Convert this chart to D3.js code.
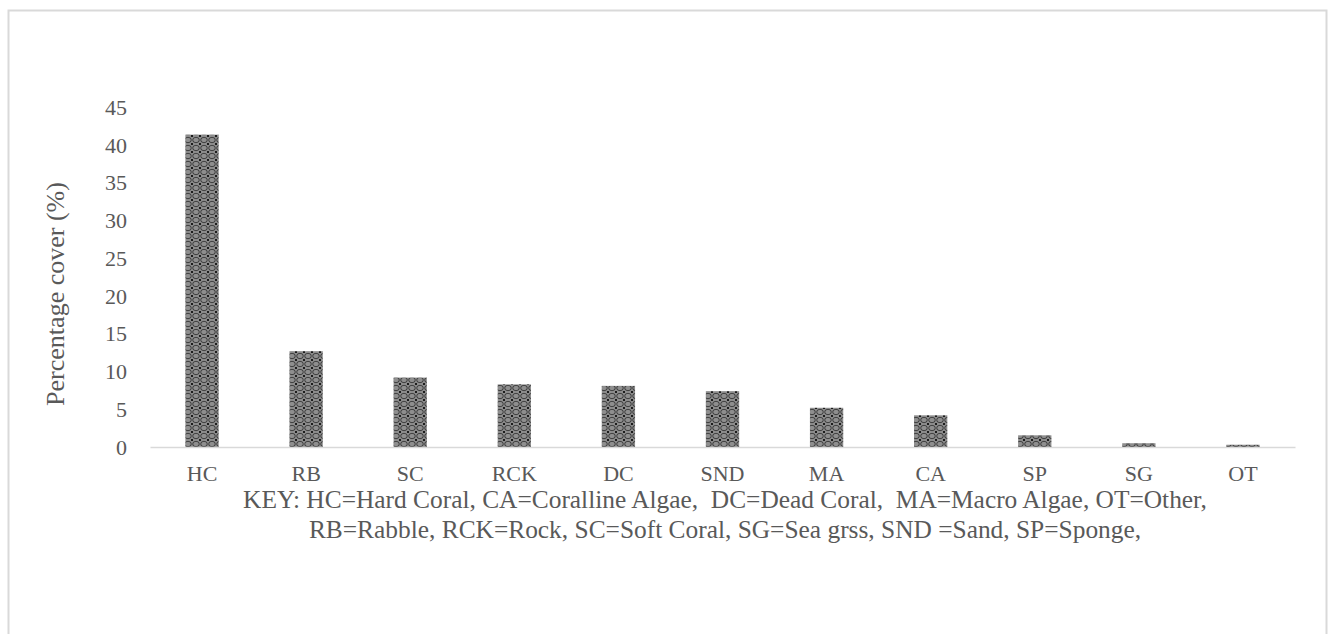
<!DOCTYPE html>
<html>
<head>
<meta charset="utf-8">
<script src="https://cdn.jsdelivr.net/npm/d3@7"></script>
<style>
  html, body { margin: 0; padding: 0; background: #fff; }
  svg { display: block; }
  svg text { font-family: "Liberation Serif", "Times New Roman", Times, "DejaVu Serif", serif !important; }
</style>
</head>
<body>
<script>
// Benthic cover categories and their mean percentage cover
const categories = ["HC", "RB", "SC", "RCK", "DC", "SND", "MA", "CA", "SP", "SG", "OT"];
const cover = [41.4, 12.7, 9.2, 8.3, 8.1, 7.4, 5.2, 4.2, 1.55, 0.5, 0.3];
const yTicks = [0, 5, 10, 15, 20, 25, 30, 35, 40, 45];
const yTitle = "Percentage cover (%)";
const keyLines = [
  "KEY: HC=Hard Coral, CA=Coralline Algae,  DC=Dead Coral,  MA=Macro Algae, OT=Other,",
  "RB=Rabble, RCK=Rock, SC=Soft Coral, SG=Sea grss, SND =Sand, SP=Sponge,"
];

const W = 1335, H = 634;
const serif = "'Liberation Serif', 'Times New Roman', Times, 'DejaVu Serif', serif";
const svg = d3.select("body").append("svg").attr("width", W).attr("height", H);

// Chart frame
svg.append("rect")
  .attr("x", 8.5).attr("y", 10.5)
  .attr("width", 1318).attr("height", 640)
  .attr("fill", "#fff").attr("stroke", "#d9d9d9").attr("stroke-width", 2);

// Lattice fill for the bars
const defs = svg.append("defs");
const pat = defs.append("pattern")
  .attr("id", "lattice").attr("patternUnits", "userSpaceOnUse")
  .attr("width", 8).attr("height", 8);
pat.append("rect").attr("width", 8).attr("height", 8).attr("fill", "#8e8e8e");
pat.append("ellipse").attr("cx", 4).attr("cy", 4).attr("rx", 3.3).attr("ry", 2.7)
  .attr("fill", "none").attr("stroke", "#1a1a1a").attr("stroke-width", 0.7);
[[0, 0], [8, 0], [0, 8], [8, 8]].forEach(([cx, cy]) =>
  pat.append("circle").attr("cx", cx).attr("cy", cy).attr("r", 1.1).attr("fill", "#000"));

const x = d3.scaleBand()
  .domain(categories)
  .range([150, 1295])
  .paddingInner(0.68)
  .paddingOuter(0.34);

const y = d3.scaleLinear().domain([0, 45]).range([447, 107.5]);

// Bars
svg.append("g").selectAll("rect")
  .data(categories)
  .join("rect")
  .attr("x", d => x(d))
  .attr("width", x.bandwidth())
  .attr("y", (d, i) => y(cover[i]))
  .attr("height", (d, i) => y(0) - y(cover[i]))
  .attr("fill", "url(#lattice)");

// Category axis
const xAxis = svg.append("g")
  .attr("transform", `translate(0,${y(0)})`)
  .call(d3.axisBottom(x).tickSize(0).tickPadding(18));
xAxis.attr("font-family", serif);
xAxis.select(".domain").attr("stroke", "#d9d9d9").attr("stroke-width", 1.5);
xAxis.selectAll("text")
  .style("font-family", serif)
  .attr("font-size", 22).attr("fill", "#595959");

// Value axis
const yAxis = svg.append("g")
  .attr("transform", "translate(127,0)")
  .call(d3.axisLeft(y).tickValues(yTicks).tickSize(0).tickPadding(0));
yAxis.attr("font-family", serif);
yAxis.select(".domain").remove();
yAxis.selectAll("text")
  .style("font-family", serif)
  .attr("font-size", 22).attr("fill", "#595959");

// Axis title
svg.append("text")
  .attr("transform", "translate(55,294) rotate(-90)")
  .attr("text-anchor", "middle")
  .attr("dominant-baseline", "central")
  .style("font-family", serif)
  .attr("font-size", 26).attr("fill", "#595959")
  .text(yTitle);

// Abbreviation key
svg.append("g").selectAll("text")
  .data(keyLines)
  .join("text")
  .attr("x", 725)
  .attr("y", (d, i) => 508 + i * 30)
  .attr("text-anchor", "middle")
  .style("font-family", serif)
  .attr("font-size", 25.4).attr("fill", "#595959")
  .style("white-space", "pre")
  .text(d => d);
</script>
</body>
</html>
